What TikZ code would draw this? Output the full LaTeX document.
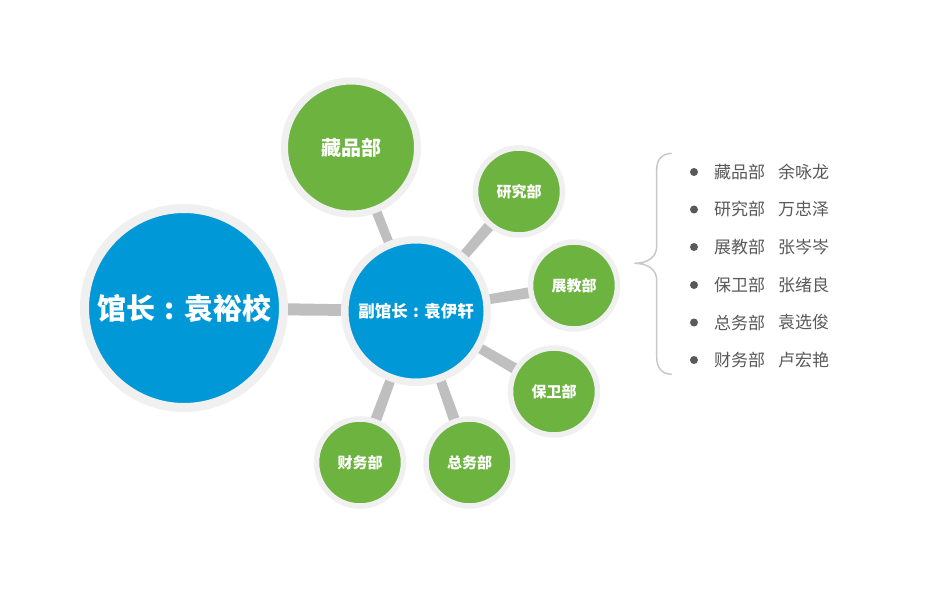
\documentclass[tikz,border=0pt]{standalone}
\usepackage{fontspec}
\usetikzlibrary{calc}
\newfontfamily\cjk{Noto Sans CJK SC}
\definecolor{cblue}{HTML}{0098D6}
\definecolor{cgreen}{HTML}{6DB33F}
\definecolor{cring}{HTML}{F0F0F0}
\definecolor{cconn}{HTML}{BFBFBF}
\definecolor{ctext}{HTML}{595959}
\definecolor{cbrace}{HTML}{C8C8C8}
\pgfdeclarelayer{back}
\pgfdeclarelayer{bg}
\pgfsetlayers{back,bg,main}
\newcommand\taperlink[4]{%
  \begin{pgfonlayer}{bg}
  \fill[cconn] ($(#1.center)!#3pt!90:(#2.center)$) -- ($(#2.center)!#4pt!-90:(#1.center)$)
    -- ($(#2.center)!#4pt!90:(#1.center)$) -- ($(#1.center)!#3pt!-90:(#2.center)$) -- cycle;
  \end{pgfonlayer}}
\newcommand\cjkcolon{\makebox[1em]{:}}
\tikzset{
  bubble/.style={circle, inner sep=0pt, draw=cring, text=white, font=\cjk\bfseries},
  head/.style={bubble, fill=cblue},
  dept/.style={bubble, fill=cgreen},
  bigdept/.style={dept, minimum size=133pt, line width=7pt, font=\cjk\bfseries\fontsize{20}{24}\selectfont},
  smalldept/.style={dept, minimum size=87pt, line width=5.5pt, font=\cjk\bfseries\fontsize{15}{18}\selectfont},
  listtext/.style={anchor=west, inner sep=0pt, text=ctext, font=\cjk\fontsize{17}{20}\selectfont},
  bulletdot/.style={circle, fill=ctext, inner sep=0pt, minimum size=8pt}
}
\begin{document}
\begin{tikzpicture}[x=1pt,y=-1pt]
\begin{pgfonlayer}{back}
\useasboundingbox[fill=white] (0,0) rectangle (949,589);
\end{pgfonlayer}
% main bubbles
\node[head, minimum size=199pt, line width=9pt, font=\cjk\bfseries\fontsize{29}{34}\selectfont] (gz) at (184,308) {馆长\cjkcolon 袁裕校};
\node[head, minimum size=142.5pt, line width=7.5pt, font=\cjk\bfseries\fontsize{16.5}{20}\selectfont] (fgz) at (416,311) {副馆长\cjkcolon 袁伊轩};
% departments
\node[bigdept] (cp) at (351,147.5) {藏品部};
\node[smalldept] (yj) at (519,191.5) {研究部};
\node[smalldept] (zj) at (574,285.5) {展教部};
\node[smalldept] (bw) at (554,391.5) {保卫部};
\node[smalldept] (zw) at (469.5,462.5) {总务部};
\node[smalldept] (cw) at (360,462.5) {财务部};
% connectors
\taperlink{gz}{fgz}{6.5}{5.5}
\taperlink{fgz}{cp}{4.5}{5}
\taperlink{fgz}{yj}{4}{6}
\taperlink{fgz}{zj}{4}{6}
\taperlink{fgz}{bw}{4}{6}
\taperlink{fgz}{zw}{4}{6}
\taperlink{fgz}{cw}{4}{6}
% brace
\draw[cbrace, line width=1.5pt]
  (671.7,153.3) .. controls (661,153.8) and (656.7,160) .. (656.7,170)
  -- (656.7,246) .. controls (656.7,257) and (648,263.3) .. (634.3,263.3)
  .. controls (648,263.3) and (656.7,269.5) .. (656.7,280.5)
  -- (656.7,357) .. controls (656.7,367) and (661,374) .. (671.7,374.3);
% list
\foreach \i/\d/\n/\y in {1/藏品部/余咏龙/172, 2/研究部/万忠泽/209.5, 3/展教部/张岑岑/247,
                          4/保卫部/张绪良/285, 5/总务部/袁选俊/322.5, 6/财务部/卢宏艳/360}{
  \node[bulletdot] (b\i) at (694,\y) {};
  \node[listtext] (d\i) at (714,\y) {\d};
  \node[listtext] (n\i) at (778,\y) {\n};
}
\end{tikzpicture}
\end{document}
